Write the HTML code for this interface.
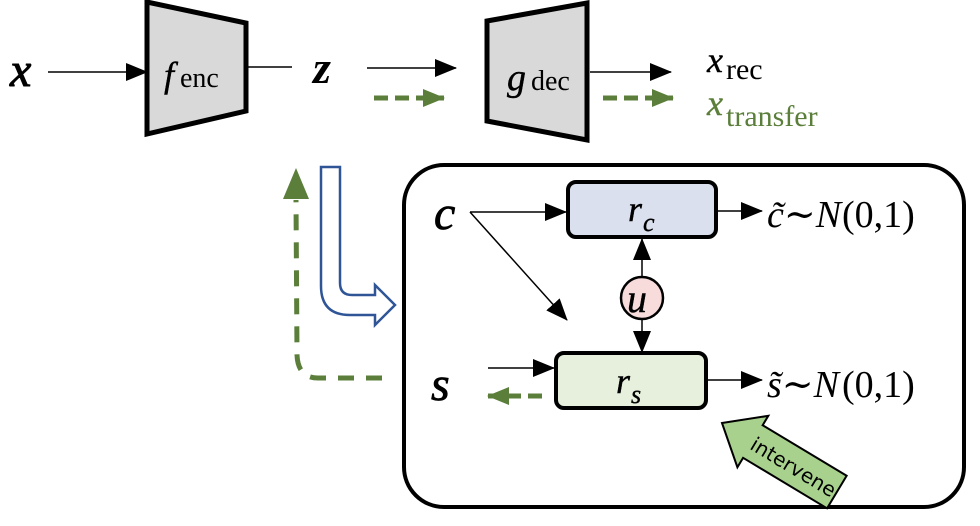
<!DOCTYPE html>
<html><head><meta charset="utf-8"><style>
body{margin:0;background:#fff}
svg{display:block}
.m{font-family:"Liberation Serif","DejaVu Serif",serif;font-style:italic}
.r{font-family:"Liberation Serif","DejaVu Serif",serif}
.k{stroke:#000;stroke-width:0.4}
</style></head><body>
<svg width="980" height="526" viewBox="0 0 980 526" xmlns="http://www.w3.org/2000/svg">
<defs>
<marker id="abig" markerWidth="22" markerHeight="18" refX="21" refY="9" orient="auto" markerUnits="userSpaceOnUse"><path d="M0,0 L22,9 L0,18 z" fill="#000"/></marker>
<marker id="ag" markerWidth="22" markerHeight="18" refX="21" refY="9" orient="auto" markerUnits="userSpaceOnUse"><path d="M0,0 L22,9 L0,18 z" fill="#5b7f3a"/></marker>
</defs>
<!-- top row -->
<text x="10" y="86" class="m k" font-size="48" style="stroke-width:1">x</text>
<line x1="48" y1="72" x2="147" y2="72" stroke="#000" stroke-width="1.5" marker-end="url(#abig)"/>
<polygon points="147,2 246,23 246,111 147,134" fill="#d9d9d9" stroke="#000" stroke-width="5"/>
<text x="164" y="87" class="m k" font-size="36">f</text><text x="180" y="87" class="r" font-size="28">enc</text>
<line x1="248" y1="67" x2="292" y2="67" stroke="#000" stroke-width="1.5"/>
<text x="313" y="83" class="m" font-size="46" font-weight="bold">z</text>
<line x1="367" y1="68" x2="456" y2="68" stroke="#000" stroke-width="1.5" marker-end="url(#abig)"/>
<line x1="374" y1="98" x2="444" y2="98" stroke="#5b7f3a" stroke-width="5" stroke-dasharray="14,7" marker-end="url(#ag)"/>
<polygon points="487,21 587,3 587,140 487,121" fill="#d9d9d9" stroke="#000" stroke-width="5"/>
<text x="507" y="90" class="m k" font-size="38">g</text><text x="531" y="90" class="r" font-size="28">dec</text>
<line x1="590" y1="72" x2="671" y2="72" stroke="#000" stroke-width="1.5" marker-end="url(#abig)"/>
<line x1="603" y1="98" x2="673" y2="98" stroke="#5b7f3a" stroke-width="5" stroke-dasharray="14,7" marker-end="url(#ag)"/>
<text x="707" y="72" class="m k" font-size="36">x</text><text x="726" y="79" class="r" font-size="30">rec</text>
<text x="707" y="115" class="m" font-size="36" fill="#5b7f3a" stroke="#5b7f3a" stroke-width="0.4">x</text><text x="726" y="126" class="r" font-size="30" fill="#5b7f3a">transfer</text>
<!-- blue hollow arrow -->
<path d="M321,167 L340,167 L340,283 Q340,295 352,295 L375,295 L375,285 L395,305 L375,325 L375,315 L350,315 Q321,315 321,286 Z" fill="#fff" stroke="#2f5597" stroke-width="2.5"/>
<!-- green dashed return -->
<path d="M382,378 L318,378 Q298,378 297,355 L296,200" fill="none" stroke="#5b7f3a" stroke-width="5" stroke-dasharray="16,12"/>
<polygon points="296,168 283,199 309,199" fill="#5b7f3a"/>
<!-- big box -->
<rect x="404" y="165" width="560" height="342" rx="40" fill="#fff" stroke="#000" stroke-width="4"/>
<text x="434" y="229" class="m k" font-size="48" style="stroke-width:0.8">c</text>
<text x="431" y="400" class="m k" font-size="48" style="stroke-width:0.8">s</text>
<rect x="568" y="182" width="148" height="55" rx="8" fill="#dae0ee" stroke="#000" stroke-width="4"/>
<text x="628" y="221" class="m k" font-size="36">r</text><text x="643" y="231" class="m k" font-size="26">c</text>
<rect x="556" y="353" width="150" height="55" rx="8" fill="#e6f0dc" stroke="#000" stroke-width="4"/>
<text x="616" y="393" class="m k" font-size="36">r</text><text x="631" y="403" class="m k" font-size="26">s</text>
<line x1="470" y1="212" x2="566" y2="212" stroke="#000" stroke-width="1.5" marker-end="url(#abig)"/>
<line x1="470" y1="212" x2="567" y2="320" stroke="#000" stroke-width="1.5" marker-end="url(#abig)"/>
<line x1="642" y1="276" x2="642" y2="239" stroke="#000" stroke-width="1.5" marker-end="url(#abig)"/>
<line x1="642" y1="320" x2="642" y2="352" stroke="#000" stroke-width="1.5" marker-end="url(#abig)"/>
<circle cx="642" cy="298" r="21" fill="#f8dcdc" stroke="#000" stroke-width="2.5"/>
<text x="627" y="312" class="m k" font-size="40">u</text>
<line x1="717" y1="211" x2="762" y2="211" stroke="#000" stroke-width="1.5" marker-end="url(#abig)"/>
<line x1="488" y1="368" x2="554" y2="368" stroke="#000" stroke-width="1.5" marker-end="url(#abig)"/>
<line x1="542" y1="396" x2="488" y2="396" stroke="#5b7f3a" stroke-width="5" stroke-dasharray="14,7" marker-end="url(#ag)"/>
<line x1="707" y1="380" x2="762" y2="380" stroke="#000" stroke-width="1.5" marker-end="url(#abig)"/>
<text x="767" y="227" class="m" font-size="38">c̃∼N</text><text x="842" y="227" class="r" font-size="38">(0,1)</text>
<text x="767" y="397" class="m" font-size="38">s̃∼N</text><text x="842" y="397" class="r" font-size="38">(0,1)</text>
<!-- intervene arrow -->
<g transform="translate(722,423) rotate(31)">
<path d="M0,0 L36,-30 L36,-19 L134,-19 L134,19 L36,19 L36,30 Z" fill="#a9d18e" stroke="#000" stroke-width="2"/>
<text x="36" y="8" font-family="DejaVu Sans, sans-serif" font-size="20">intervene</text>
</g>
</svg>
</body></html>
